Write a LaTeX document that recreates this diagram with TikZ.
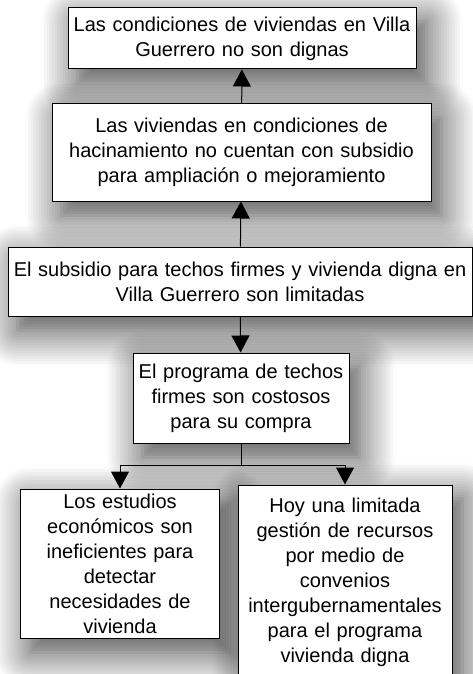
\documentclass[tikz,border=0pt]{standalone}
\usepackage{fontspec}
\setmainfont{Liberation Sans}
\usepackage{tikz}
\usetikzlibrary{arrows.meta,shadows.blur,backgrounds}

\begin{document}
\begin{tikzpicture}[x=1pt,y=-1pt,
  caja/.style={draw=black, line width=1pt, fill=white, align=center, inner sep=2pt,
    font=\fontsize{20}{25}\selectfont},
  sombra/.style={fill=white, blur shadow={shadow xshift=10pt, shadow yshift=-14pt,
      shadow blur radius=36pt, shadow blur steps=14, shadow opacity=75}},
  flecha/.style={-{Triangle[length=17pt,width=18pt]}, line width=1pt}]

\useasboundingbox (0,0) rectangle (473,674);

% Efectos
\node[caja, minimum width=348, minimum height=61, text width=340] (condiciones) at (242,38.5)
  {Las condiciones de viviendas en Villa\\Guerrero no son dignas};
\node[caja, minimum width=379, minimum height=97, text width=370] (hacinamiento) at (241.5,152.5)
  {Las viviendas en condiciones de\\hacinamiento no cuentan con subsidio\\para ampliación o mejoramiento};

% Problema central
\node[caja, minimum width=464, minimum height=69, text width=458] (subsidio) at (240,281.5)
  {El subsidio para techos firmes y vivienda digna en\\Villa Guerrero son limitadas};

% Causas
\node[caja, minimum width=216, minimum height=90, text width=208] (programa) at (241,398)
  {El programa de techos\\firmes son costosos\\para su compra};
\node[caja, minimum width=199, minimum height=149, text width=192] (estudios) at (120,563.5)
  {Los estudios\\económicos son\\ineficientes para\\detectar\\necesidades de\\vivienda};
\node[caja, minimum width=214, minimum height=195, text width=208] (gestion) at (345,582.5)
  {Hoy una limitada\\gestión de recursos\\por medio de\\convenios\\intergubernamentales\\para el programa\\vivienda digna};

% Flechas
\draw[flecha] (hacinamiento) -- (condiciones);
\draw[flecha] (subsidio) -- (hacinamiento);
\draw[flecha] (subsidio) -- (programa);
\draw[flecha] (programa.south) -- ++(0,22) -| (estudios);
\draw[flecha] (programa.south) -- ++(0,22) -| (gestion);

% Sombras detras de todas las cajas
\begin{scope}[on background layer]
  \foreach \n in {condiciones,hacinamiento,subsidio,programa,estudios,gestion}
    \path[sombra] (\n.south west) rectangle (\n.north east);
\end{scope}

\end{tikzpicture}
\end{document}
